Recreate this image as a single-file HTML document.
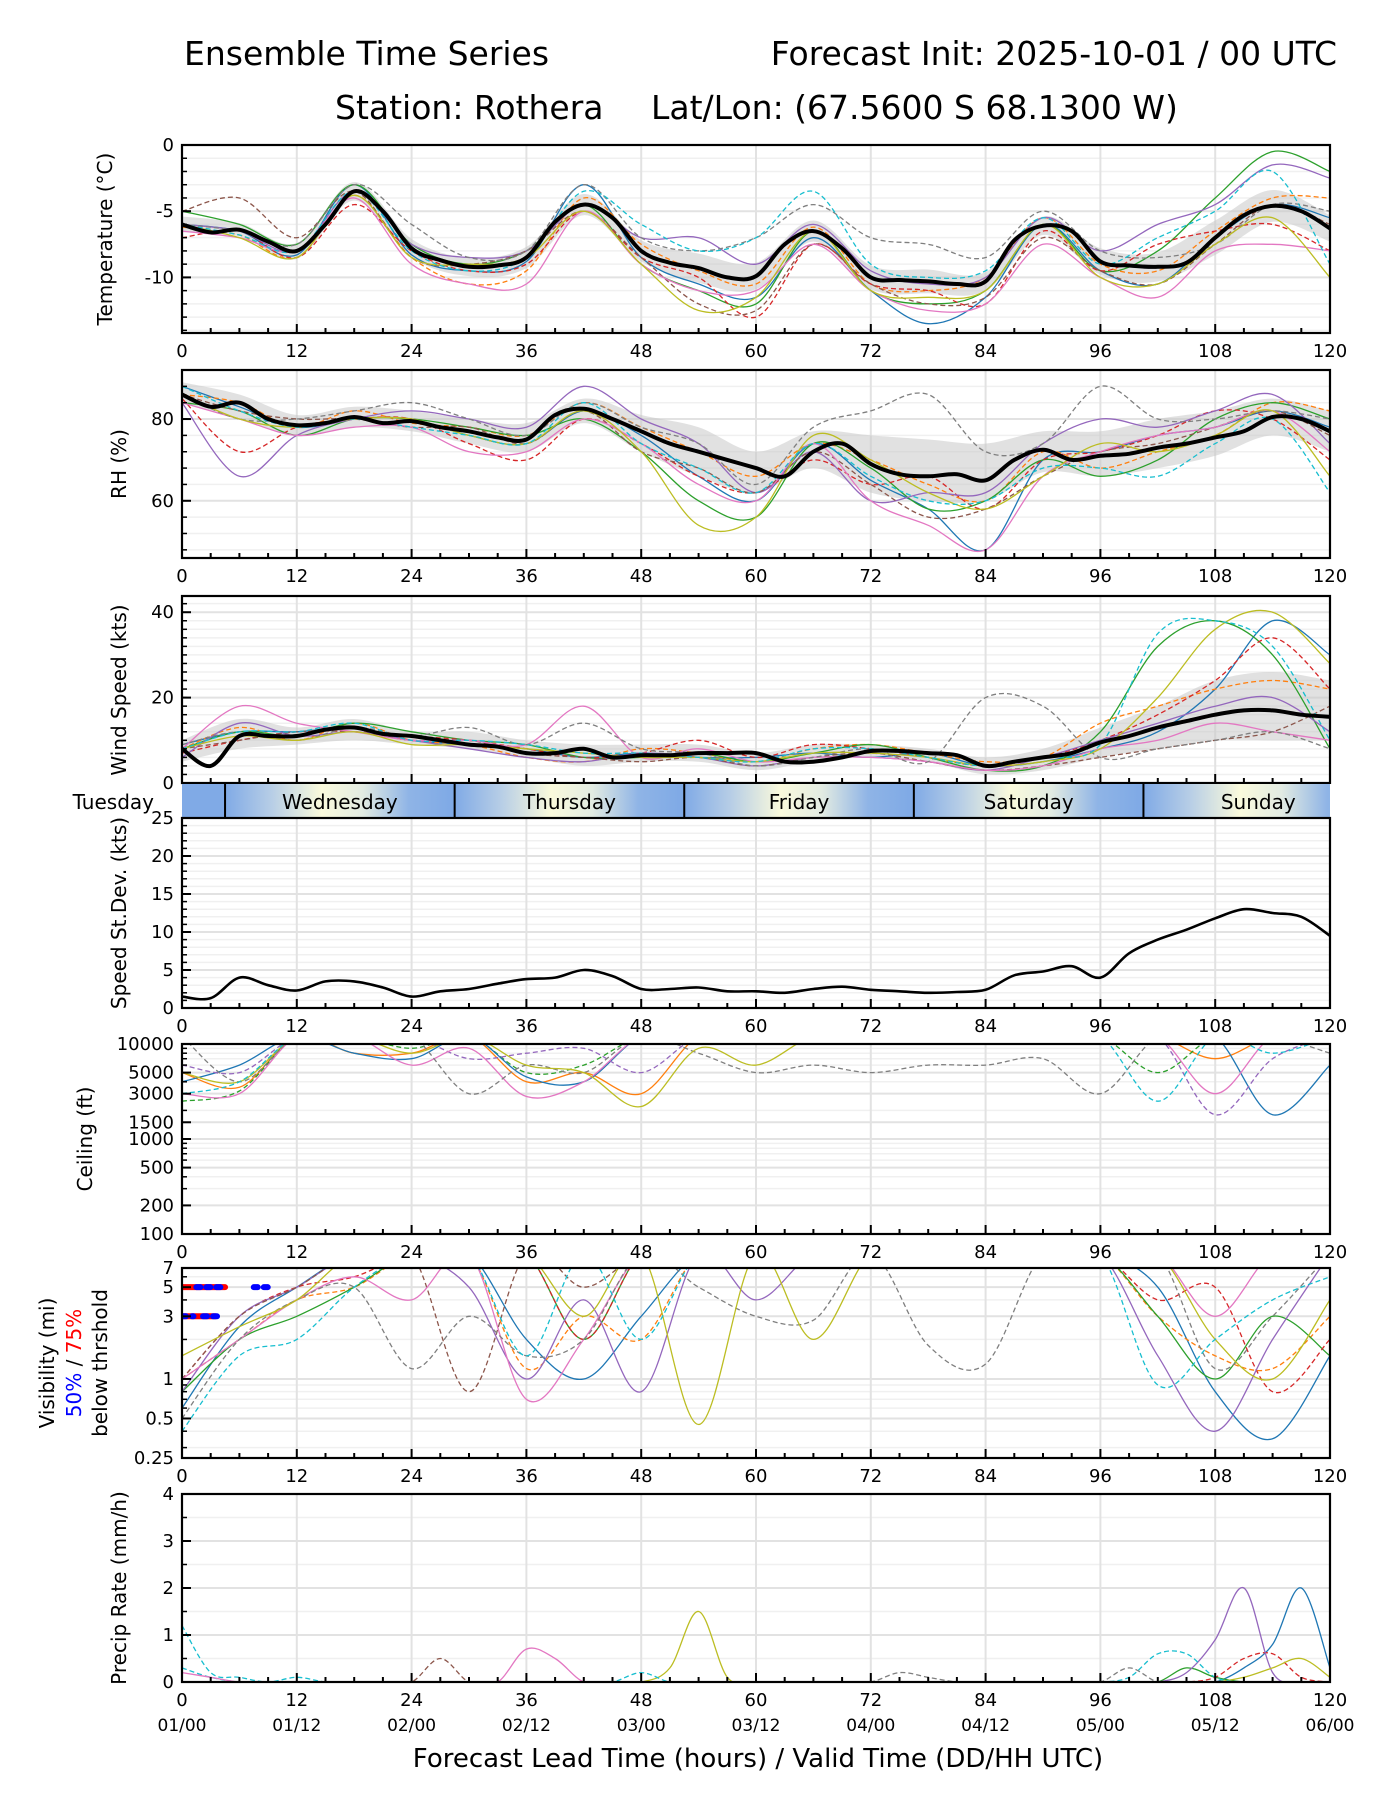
<!DOCTYPE html>
<html><head><meta charset="utf-8"><style>
html,body{margin:0;padding:0;background:#fff;}
svg{display:block;font-family:"DejaVu Sans","Liberation Sans",sans-serif;}
</style></head><body>
<svg id="chart" width="1400" height="1800" viewBox="0 0 1400 1800" xmlns="http://www.w3.org/2000/svg">
<defs>
<linearGradient id="dayGrad" x1="0" x2="1" y1="0" y2="0">
<stop offset="0" stop-color="#80aae6"/><stop offset="0.2" stop-color="#b6cde6"/><stop offset="0.42" stop-color="#fafadc"/><stop offset="0.6" stop-color="#e2ebe2"/><stop offset="0.8" stop-color="#8fb4e6"/><stop offset="1" stop-color="#7ea9e6"/>
</linearGradient>
</defs>
<text x="184" y="65" font-size="33">Ensemble Time Series</text>
<text x="1337" y="65" font-size="33" text-anchor="end">Forecast Init: 2025-10-01 / 00 UTC</text>
<text x="335" y="119" font-size="33">Station: Rothera</text>
<text x="651" y="119" font-size="33">Lat/Lon: (67.5600 S 68.1300 W)</text>
<text x="758" y="1767" font-size="26" text-anchor="middle">Forecast Lead Time (hours) / Valid Time (DD/HH UTC)</text>
</svg>
<script>
// ---------- data ----------
const hours6 = [0,6,12,18,24,30,36,42,48,54,60,66,72,78,84,90,96,102,108,114,120];
const hours3 = [0,3,6,9,12,15,18,21,24,27,30,33,36,39,42,45,48,51,54,57,60,63,66,69,72,75,78,81,84,87,90,93,96,99,102,105,108,111,114,117,120];
const xTicks = [0,12,24,36,48,60,72,84,96,108,120];
const dateLabels = ["01/00","01/12","02/00","02/12","03/00","03/12","04/00","04/12","05/00","05/12","06/00"];
const colors = ["#1f77b4","#ff7f0e","#2ca02c","#d62728","#9467bd","#8c564b","#e377c2","#7f7f7f","#bcbd22","#17becf"];

const tempMean = [-6,-6.6,-6.4,-7.3,-8,-6,-3.5,-5,-7.8,-8.7,-9.2,-9.1,-8.5,-5.8,-4.5,-5.5,-8,-8.9,-9.3,-10,-9.9,-7.5,-6.5,-7.8,-10,-10.2,-10.3,-10.5,-10.3,-7.2,-6.1,-6.5,-8.8,-9.1,-9.2,-8.9,-7,-5.3,-4.6,-5,-6.3];
const tempLo = [-6.6,-6.9,-8.6,-4.2,-8.5,-9.9,-9.3,-5.3,-8.8,-10.4,-10.9,-7.3,-10.9,-11.2,-11,-6.8,-9.8,-10.3,-8.3,-5.8,-7.3];
const tempHi = [-5.4,-5.9,-7.4,-2.8,-7.1,-8.5,-7.7,-3.7,-7.2,-8.2,-8.9,-5.7,-9.1,-9.4,-9.6,-5.4,-7.8,-8.1,-5.7,-3.4,-5.3];
const tempMembers = [
[-6,-6.5,-8.3,-3,-8.3,-9.5,-8.8,-3,-8.5,-10.5,-11.5,-7,-11,-13.5,-11.5,-6,-9.5,-10.5,-7,-4.5,-5.5],
[-6.2,-6.8,-8.5,-3.8,-8.5,-10.5,-9.5,-4,-7.5,-9.5,-10.5,-6.2,-10.5,-11,-10,-5.5,-9,-9.5,-6.5,-4,-4],
[-5,-6,-7.5,-3,-7.5,-9,-8,-4.5,-9,-11,-12,-6.5,-11,-12,-11,-6,-9.5,-8,-4,-0.5,-2],
[-7,-6.5,-8.5,-4.5,-8,-9.5,-9,-5,-8.5,-10,-13,-7.5,-10.5,-11,-12,-6.5,-9.5,-7.5,-6.5,-6,-8],
[-6,-6.5,-8,-3.5,-7.5,-8.5,-8,-4.5,-7,-7,-9,-6,-9.5,-10.5,-10,-5.5,-8,-6,-4.5,-1.5,-2.5],
[-5,-4,-7,-3.5,-8.5,-9,-8,-5,-8.5,-12,-12.5,-7.5,-10.5,-12,-11.5,-7,-9.5,-10.5,-7.5,-4.5,-6],
[-6.5,-7,-8,-4,-9,-10.5,-10.5,-5,-9,-11,-11,-7.5,-11,-12.5,-12,-7.5,-10,-11.5,-8,-7.5,-8],
[-6,-6.5,-7.5,-3,-6,-8.5,-8,-3,-7,-8,-7,-4.5,-7,-7.5,-8.5,-5,-8,-8.5,-7.5,-4.5,-5],
[-6,-7,-8.5,-3.8,-8.5,-9,-8.5,-5,-9,-12.5,-11.5,-6.5,-11,-11.5,-11,-6,-10,-10.5,-7.5,-5.5,-10],
[-6,-6.8,-8,-3.5,-8,-9.5,-8.5,-3.5,-6,-8,-7,-3.5,-9,-10,-9.5,-5.5,-9,-7,-5,-2,-9]
];

const rhMean = [86,83,84,80,78.5,79,80.5,79,79.5,78,77,75.5,75,81,82.5,80,77,74,72,70,68,66,72,74,69,66.5,66,66.5,65,70,72.5,70,71,71.5,73,74,75.5,77,80.5,80,77];
const rhLo = [84,80,76,78,77,74,72,79,72,66,62,68,62,60,60,67,66,68,71,76,72];
const rhHi = [89,86,81,83,82,80,79,85,81,78,72,77,76,75,74,77,77,80,82,85,82];
const rhMembers = [
[88,83,78,80,80,76,74,82,76,66,60,74,65,58,48,70,72,76,78,82,78],
[86,84,78,82,79,78,76,84,78,72,66,74,70,64,60,72,68,72,76,84,82],
[84,82,76,80,80,78,76,80,72,60,56,74,68,58,60,70,66,70,80,84,80],
[85,72,78,80,80,74,70,80,74,66,62,70,64,66,58,70,72,76,82,80,70],
[84,66,76,80,82,80,78,88,80,74,62,72,60,62,62,74,80,78,82,86,74],
[86,82,80,80,78,78,74,82,72,68,62,72,64,56,58,66,72,74,78,82,76],
[84,80,76,78,78,72,72,80,74,64,60,74,60,54,48,66,72,76,78,82,72],
[86,80,80,82,84,80,76,84,78,74,64,78,82,86,72,74,88,80,80,82,80],
[86,80,78,80,80,76,74,82,72,54,56,76,70,62,58,66,74,72,76,82,66],
[88,82,78,80,78,76,74,84,74,68,62,74,66,60,60,68,68,66,74,80,62]
];

const windMean = [8,4,11,11,11,12.5,13,11.5,11,10,9,8.5,7,7,8,6,6.5,6.5,7,7,7,5,5,6,7.5,7.5,7,6.5,4,5,6,7,9.5,11,13,14.5,16,17,17,16,15.5];
const windLo = [5,8,9,10,9,8,6,4,5,5,3,5,6,5,2,3,6,8,10,10,10];
const windHi = [10,15,13,15,12,12,10,9,9,9,7,9,9,8,6,8,13,18,24,26,24];
const windMembers = [
[9,12,12,13,10,9,8,6,7,6,6,7,6,7,4,5,8,12,22,38,30],
[8,13,10,14,10,9,6,5,8,7,5,8,9,7,5,6,14,18,22,24,22],
[8,12,11,14,12,10,9,6,6,7,5,7,9,6,3,4,12,32,38,30,8],
[7,10,12,12,11,10,8,6,7,10,6,9,8,6,4,6,10,16,24,34,22],
[6,14,11,12,10,8,6,5,7,6,4,6,6,5,3,6,10,14,18,20,12],
[8,10,12,12,10,10,7,6,5,6,4,6,7,5,3,4,6,8,10,12,18],
[8,18,14,12,10,10,9,18,6,8,5,6,6,5,3,4,8,10,14,12,10],
[9,12,10,13,11,13,9,14,8,7,4,6,8,5,20,18,6,8,10,12,8],
[8,11,10,12,9,9,8,7,6,6,5,7,7,6,4,5,8,20,36,40,28],
[8,12,12,14,10,10,9,7,7,6,5,8,8,6,4,6,9,35,38,32,10]
];

const stdValues = [1.5,1.3,4.0,3.0,2.3,3.5,3.5,2.7,1.5,2.2,2.5,3.2,3.8,4.0,5.0,4.2,2.5,2.5,2.7,2.2,2.2,2.0,2.5,2.8,2.4,2.2,2.0,2.1,2.4,4.3,4.8,5.5,4.0,7.2,9.0,10.3,11.8,13.0,12.5,12.0,9.5];

const ceilMembers = [
[5000,3500,12000,8000,8000,12000,4000,5000,3000,12000,12000,12000,12000,12000,12000,12000,12000,12000,7000,12000,12000],
[2500,3200,12000,12000,9000,12000,5000,6000,12000,12000,12000,12000,12000,12000,12000,12000,12000,5000,12000,12000,12000],
[4000,6000,12000,8000,7000,12000,4500,4000,12000,12000,12000,12000,12000,12000,12000,12000,12000,12000,12000,1800,6000],
[6000,5000,12000,12000,12000,7000,8000,9000,5000,12000,12000,12000,12000,12000,12000,12000,12000,12000,1800,7000,12000],
[3000,3000,12000,12000,6000,9000,2800,4000,12000,12000,12000,12000,12000,12000,12000,12000,12000,12000,3000,12000,12000],
[12000,4000,12000,12000,12000,3000,6000,5000,12000,8000,5000,6000,5000,6000,6000,7000,3000,12000,12000,12000,8000],
[5000,4000,12000,12000,8000,12000,6000,5000,2200,9000,6000,12000,12000,12000,12000,12000,12000,12000,12000,12000,12000],
[3000,4000,12000,12000,12000,12000,12000,12000,12000,12000,12000,12000,12000,12000,12000,12000,12000,2500,12000,8000,12000]
];
const ceilColorIdx = [1,2,0,4,6,7,8,9];

const visMembers = [
[0.6,2.5,5,9,9,9,2,1,3,9,9,9,9,9,9,9,9,5,0.8,0.35,1.5],
[1,2,4,5,9,9,1.2,3,2,9,9,9,9,9,9,9,9,3,1.5,1.2,3],
[0.8,2,3,5,9,9,9,2,9,9,9,9,9,9,9,9,9,3,1,3,1.5],
[1,3,5,6,9,9,9,2,9,9,9,9,9,9,9,9,9,4,5,0.8,2],
[0.8,3,5,9,9,5,1,4,0.8,9,4,9,9,9,9,9,9,1.5,0.4,2,9],
[1,3,5,9,9,0.8,9,5,9,9,9,9,9,9,9,9,9,9,9,9,9],
[1,2,4,6,4,9,0.7,2,9,9,9,9,9,9,9,9,9,9,3,9,9],
[0.5,2,4,5,1.2,3,1.5,2,9,5,3,2.8,9,1.8,1.3,9,9,9,1.2,3,9],
[1.5,2.5,4,9,9,9,9,3,9,0.45,9,2,9,9,9,9,9,9,2,1,4],
[0.4,1.5,2,5,9,9,1.5,9,2,9,9,9,9,9,9,9,9,0.9,2,4,6]
];

const precipMembers = [
[0,0,0,0,0,0,0,0,0,0,0,0,0,0,0,0,0,0,0,0,0,0,0,0,0,0,0,0,0,0,0,0,0,0,0,0,0,0.3,0.8,2.0,0.3],
[0.3,0.1,0,0,0,0,0,0,0,0,0,0,0,0,0,0,0,0,0,0,0,0,0,0,0,0,0,0,0,0,0,0,0,0,0,0,0,0,0,0,0],
[0,0,0,0,0,0,0,0,0,0,0,0,0,0,0,0,0,0,0,0,0,0,0,0,0,0,0,0,0,0,0,0,0,0,0,0.3,0.1,0,0,0,0],
[0,0,0,0,0,0,0,0,0,0,0,0,0,0,0,0,0,0,0,0,0,0,0,0,0,0,0,0,0,0,0,0,0,0,0,0,0.1,0.5,0.6,0.1,0],
[0,0,0,0,0,0,0,0,0,0,0,0,0,0,0,0,0,0,0,0,0,0,0,0,0,0,0,0,0,0,0,0,0,0,0,0.2,0.9,2.0,0.2,0,0],
[0,0,0,0,0,0,0,0,0,0.5,0,0,0,0,0,0,0,0,0,0,0,0,0,0,0,0,0,0,0,0,0,0,0,0,0,0,0,0,0,0,0],
[0.2,0.1,0,0,0,0,0,0,0,0,0,0,0.7,0.5,0,0,0,0,0,0,0,0,0,0,0,0,0,0,0,0,0,0,0,0,0,0,0,0,0,0,0],
[0,0,0,0,0,0,0,0,0,0,0,0,0,0,0,0,0,0,0,0,0,0,0,0,0,0.2,0.1,0,0,0,0,0,0,0.3,0,0,0,0,0,0,0],
[0,0,0,0,0,0,0,0,0,0,0,0,0,0,0,0,0,0.3,1.5,0.1,0,0,0,0,0,0,0,0,0,0,0,0,0,0,0,0,0,0.1,0.3,0.5,0.1],
[1.2,0.2,0.1,0,0.1,0,0,0,0,0,0,0,0,0,0,0,0.2,0,0,0,0,0,0,0,0,0,0,0,0,0,0,0,0,0.1,0.6,0.6,0.1,0,0,0,0]
];

const dayNames = ["Wednesday","Thursday","Friday","Saturday","Sunday"];
const dayStarts = [4.5,28.5,52.5,76.5,100.5];

// ---------- drawing ----------
const NS = "http://www.w3.org/2000/svg";
const svg = document.getElementById("chart");
const L = 182, R = 1330;
const X = h => L + h * (R - L) / 120;
function el(tag, attrs, parent) {
  const e = document.createElementNS(NS, tag);
  for (const k in attrs) e.setAttribute(k, attrs[k]);
  (parent || svg).appendChild(e);
  return e;
}
function smoothPath(pts) {
  let d = "M" + pts[0][0].toFixed(1) + "," + pts[0][1].toFixed(1);
  for (let i = 0; i < pts.length - 1; i++) {
    const p0 = pts[Math.max(0, i - 1)], p1 = pts[i], p2 = pts[i + 1], p3 = pts[Math.min(pts.length - 1, i + 2)];
    const c1x = p1[0] + (p2[0] - p0[0]) / 6, c1y = p1[1] + (p2[1] - p0[1]) / 6;
    const c2x = p2[0] - (p3[0] - p1[0]) / 6, c2y = p2[1] - (p3[1] - p1[1]) / 6;
    d += "C" + c1x.toFixed(1) + "," + c1y.toFixed(1) + " " + c2x.toFixed(1) + "," + c2y.toFixed(1) + " " + p2[0].toFixed(1) + "," + p2[1].toFixed(1);
  }
  return d;
}
let clipId = 0;
function panel(name, top, bottom, yfun, majors, minors, majorLabels, xLabels) {
  const g = el("g", {});
  
  
  const cid = "clip" + (clipId++);
  const cp = el("clipPath", { id: cid }, g);
  el("rect", { x: L, y: top, width: R - L, height: bottom - top }, cp);
  minors.forEach(v => el("line", { x1: L, x2: R, y1: yfun(v), y2: yfun(v), stroke: "#f0f0f0", "stroke-width": 1.5 }, g));
  majors.forEach(v => el("line", { x1: L, x2: R, y1: yfun(v), y2: yfun(v), stroke: "#e2e2e2", "stroke-width": 2 }, g));
  xTicks.forEach(h => el("line", { x1: X(h), x2: X(h), y1: top, y2: bottom, stroke: "#e2e2e2", "stroke-width": 2 }, g));
  const plot = el("g", { "clip-path": "url(#" + cid + ")" }, g);
  const ax = el("g", {}, g);
  for (let h = 0; h <= 120; h += 3) {
    const len = h % 12 === 0 ? 9 : 5;
    el("line", { x1: X(h), x2: X(h), y1: bottom, y2: bottom - len, stroke: "#000", "stroke-width": 2 }, ax);
  }
  minors.forEach(v => el("line", { x1: L, x2: L + 5, y1: yfun(v), y2: yfun(v), stroke: "#000", "stroke-width": 1.5 }, ax));
  majors.forEach((v, i) => {
    el("line", { x1: L, x2: L + 9, y1: yfun(v), y2: yfun(v), stroke: "#000", "stroke-width": 2 }, ax);
    const t = el("text", { x: L - 8, y: yfun(v) + 6, "font-size": 18, "text-anchor": "end" }, ax);
    
    
    t.textContent = majorLabels[i];
  });
  el("rect", { x: L, y: top, width: R - L, height: bottom - top, fill: "none", stroke: "#000", "stroke-width": 2.2 }, ax);
  if (xLabels) {
    xTicks.forEach(h => {
      const t = el("text", { x: X(h), y: bottom + 24, "font-size": 18, "text-anchor": "middle" }, ax);
      
      
      t.textContent = h;
    });
  }
  return plot;
}
function ylabel(text, x, yc, name) {
  const t = el("text", { x: x, y: yc, "font-size": 20, "text-anchor": "middle", transform: "rotate(-90 " + x + " " + yc + ")" });
  
  
  t.textContent = text;
  return t;
}
function drawMembers(plot, members, hrs, yfun, name, colorIdx) {
  members.forEach((m, i) => {
    const pts = m.map((v, j) => [X(hrs[j]), yfun(v)]);
    const p = el("path", { d: smoothPath(pts), fill: "none", stroke: colors[colorIdx ? colorIdx[i] : i], "stroke-width": 1.3, "stroke-dasharray": i % 2 ? "5 3" : "none" }, plot);
    
    
  });
}
function drawBand(plot, lo, hi, yfun, name) {
  const a = lo.map((v, j) => [X(hours6[j]), yfun(v)]);
  const b = hi.map((v, j) => [X(hours6[j]), yfun(v)]).reverse();
  const d = smoothPath(a) + "L" + smoothPath(b).slice(1) + "Z";
  const p = el("path", { d: d, fill: "#c8c8c8", "fill-opacity": 0.55, stroke: "none" }, plot);
  
  
}
function drawMean(plot, vals, yfun, name, w) {
  const pts = vals.map((v, j) => [X(hours3[j]), yfun(v)]);
  const p = el("path", { d: smoothPath(pts), fill: "none", stroke: "#000", "stroke-width": w || 4, "stroke-linejoin": "round" }, plot);
  
  
}
const lin = (top, bottom, vmin, vmax) => v => bottom - (v - vmin) / (vmax - vmin) * (bottom - top);
const logs = (top, bottom, vmin, vmax) => v => bottom - (Math.log(v) - Math.log(vmin)) / (Math.log(vmax) - Math.log(vmin)) * (bottom - top);
const range = (a, b, s) => { const r = []; for (let v = a; v <= b + 1e-9; v += s) r.push(+v.toFixed(3)); return r; };

{
  const y = lin(145, 333, -14.2, 0);
  const p = panel("temperature", 145, 333, y, [0, -5, -10], range(-14, 0, 1), ["0", "-5", "-10"], true);
  drawBand(p, tempLo, tempHi, y, "temperature");
  drawMembers(p, tempMembers, hours6, y, "temperature");
  drawMean(p, tempMean, y, "temperature");
  ylabel("Temperature (°C)", 112, 239, "temperature-y-axis-title");
}
{
  const y = lin(370, 558, 46, 92);
  const p = panel("rh", 370, 558, y, [60, 80], range(48, 92, 4), ["60", "80"], true);
  drawBand(p, rhLo, rhHi, y, "rh");
  drawMembers(p, rhMembers, hours6, y, "rh");
  drawMean(p, rhMean, y, "rh");
  ylabel("RH (%)", 126, 464, "rh-y-axis-title");
}
{
  const y = lin(596, 783, 0, 43.8);
  const p = panel("wind", 596, 783, y, [0, 20, 40], range(0, 42, 2), ["0", "20", "40"], false);
  drawBand(p, windLo, windHi, y, "wind");
  drawMembers(p, windMembers, hours6, y, "wind");
  drawMean(p, windMean, y, "wind");
  ylabel("Wind Speed (kts)", 126, 690, "wind-y-axis-title");
}
{
  const g = el("g", {});
  
  
  el("rect", { x: L, y: 784, width: X(4.5) - L, height: 34, fill: "#80aae6" }, g);
  dayStarts.forEach((s, i) => {
    const r = el("rect", { x: X(s), y: 784, width: X(s + 24) - X(s), height: 34, fill: "url(#dayGrad)" }, g);
    
    
    el("line", { x1: X(s), x2: X(s), y1: 784, y2: 818, stroke: "#000", "stroke-width": 2 }, g);
    const t = el("text", { x: X(s + 12), y: 809, "font-size": 20, "text-anchor": "middle" }, g);
    
    
    t.textContent = dayNames[i];
  });
  el("rect", { x: R, y: 784, width: 70, height: 34, fill: "#fff" }, g);
  const t = el("text", { x: 154, y: 809, "font-size": 20, "text-anchor": "end" }, g);
  
  
  t.textContent = "Tuesday";
}
{
  const y = lin(818, 1008, 0, 25);
  const p = panel("std", 818, 1008, y, [0, 5, 10, 15, 20, 25], range(0, 25, 1), ["0", "5", "10", "15", "20", "25"], true);
  drawMean(p, stdValues, y, "std", 2.6);
  ylabel("Speed St.Dev. (kts)", 126, 913, "std-y-axis-title");
}
{
  const y = logs(1044, 1234, 100, 10000);
  const maj = [100, 200, 500, 1000, 1500, 3000, 5000, 10000];
  const p = panel("ceiling", 1044, 1234, y, maj, [300, 400, 600, 700, 800, 900, 2000, 4000, 6000, 7000, 8000, 9000], maj.map(String), true);
  drawMembers(p, ceilMembers, hours6, y, "ceiling", ceilColorIdx);
  ylabel("Ceiling (ft)", 92, 1139, "ceiling-y-axis-title");
}
{
  const y = logs(1268, 1458, 0.25, 7);
  const maj = [0.25, 0.5, 1, 3, 5, 7];
  const p = panel("visibility", 1268, 1458, y, maj, [0.3, 0.4, 0.6, 0.7, 0.8, 0.9, 2, 4, 6], ["0.25", "0.5", "1", "3", "5", "7"], true);
  drawMembers(p, visMembers, hours6, y, "visibility");
  [[0, 4.5, 5, "#f00"], [1.5, 4.5, 5, "#00f"], [7.5, 9, 5, "#00f"], [0, 3.5, 3, "#f00"], [0, 1.2, 3, "#00f"], [2.2, 4, 3, "#00f"]].forEach(s => {
    const m = el("line", { x1: X(s[0]), x2: X(s[1]), y1: y(s[2]), y2: y(s[2]), stroke: s[3], "stroke-width": 6, "stroke-linecap": "round", "stroke-dasharray": s[3] === "#00f" ? "4 6" : "none" }, p);
    
    
  });
  ylabel("Visibility (mi)", 54, 1363, "visibility-y-axis-title");
  const t = el("text", { x: 81, y: 1363, "font-size": 20, "text-anchor": "middle", transform: "rotate(-90 81 1363)" });
  
  
  t.innerHTML = '<tspan fill="#00f">50%</tspan> / <tspan fill="#f00">75%</tspan>';
  ylabel("below thrshold", 107, 1363, "visibility-y-axis-subtitle");
}
{
  const y = lin(1494, 1682, 0, 4);
  const p = panel("precip", 1494, 1682, y, [0, 1, 2, 3, 4], range(0, 4, 0.5), ["0", "1", "2", "3", "4"], true);
  drawMembers(p, precipMembers, hours3, y, "precip", [0, 9, 2, 3, 4, 5, 6, 7, 8, 9]);
  ylabel("Precip Rate (mm/h)", 126, 1588, "precip-y-axis-title");
  xTicks.forEach((h, i) => {
    const t = el("text", { x: X(h), y: 1731, "font-size": 17, "text-anchor": "middle" });
    
    
    t.textContent = dateLabels[i];
  });
}
</script>
</body></html>
